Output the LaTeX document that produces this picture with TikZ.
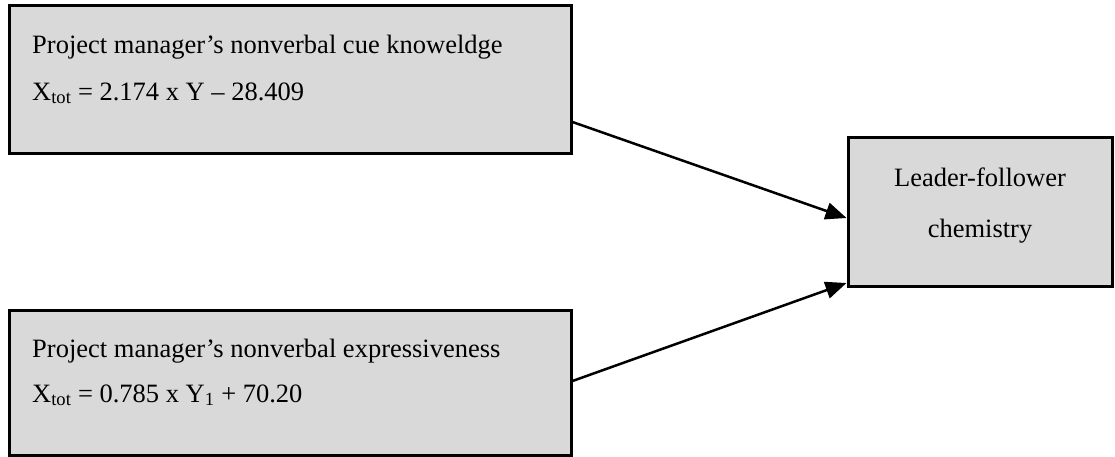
\documentclass[tikz,border=0pt]{standalone}
\usepackage{fontspec}
\setmainfont{Liberation Serif}
\usetikzlibrary{arrows.meta,positioning}
\definecolor{boxgray}{HTML}{D9D9D9}
\tikzset{
  box/.style={draw=black, line width=3pt, fill=boxgray, inner sep=0pt},
  txt/.style={anchor=base west, inner sep=0pt, font=\fontsize{26.5}{30}\selectfont},
  ctxt/.style={anchor=base, inner sep=0pt, font=\fontsize{26.5}{30}\selectfont},
  conn/.style={line width=2.5pt, -{Triangle[length=21pt,width=17pt]}}
}
\begin{document}
\begin{tikzpicture}[x=1pt,y=-1pt]
\useasboundingbox (0,0) rectangle (1115,456);
\node[box, minimum width=562pt, minimum height=148pt] (a) at (290,79) {};
\node[box, minimum width=562pt, minimum height=145pt] (b) at (290,382.5) {};
\node[box, minimum width=264pt, minimum height=149pt] (c) at (980,211.5) {};
\node[txt] (a1) at (32,53) {Project manager’s nonverbal cue knoweldge};
\node[txt] (a2) at (32,100) {X\textsubscript{tot} = 2.174 x Y – 28.409};
\node[txt] (b1) at (32,357) {Project manager’s nonverbal expressiveness};
\node[txt] (b2) at (32,402) {X\textsubscript{tot} = 0.785 x Y\textsubscript{1} + 70.20};
\node[ctxt] (c1) at (980,186) {Leader-follower};
\node[ctxt] (c2) at (980,237) {chemistry};
\coordinate (as) at ([yshift=-43pt]a.east);
\coordinate (bs) at ([yshift=1.5pt]b.east);
\coordinate (ct) at ([yshift=-6.5pt]c.west);
\coordinate (cb) at ([yshift=-71.5pt]c.west);
\draw[conn] (as) -- (ct);
\draw[conn] (bs) -- (cb);
\end{tikzpicture}
\end{document}
